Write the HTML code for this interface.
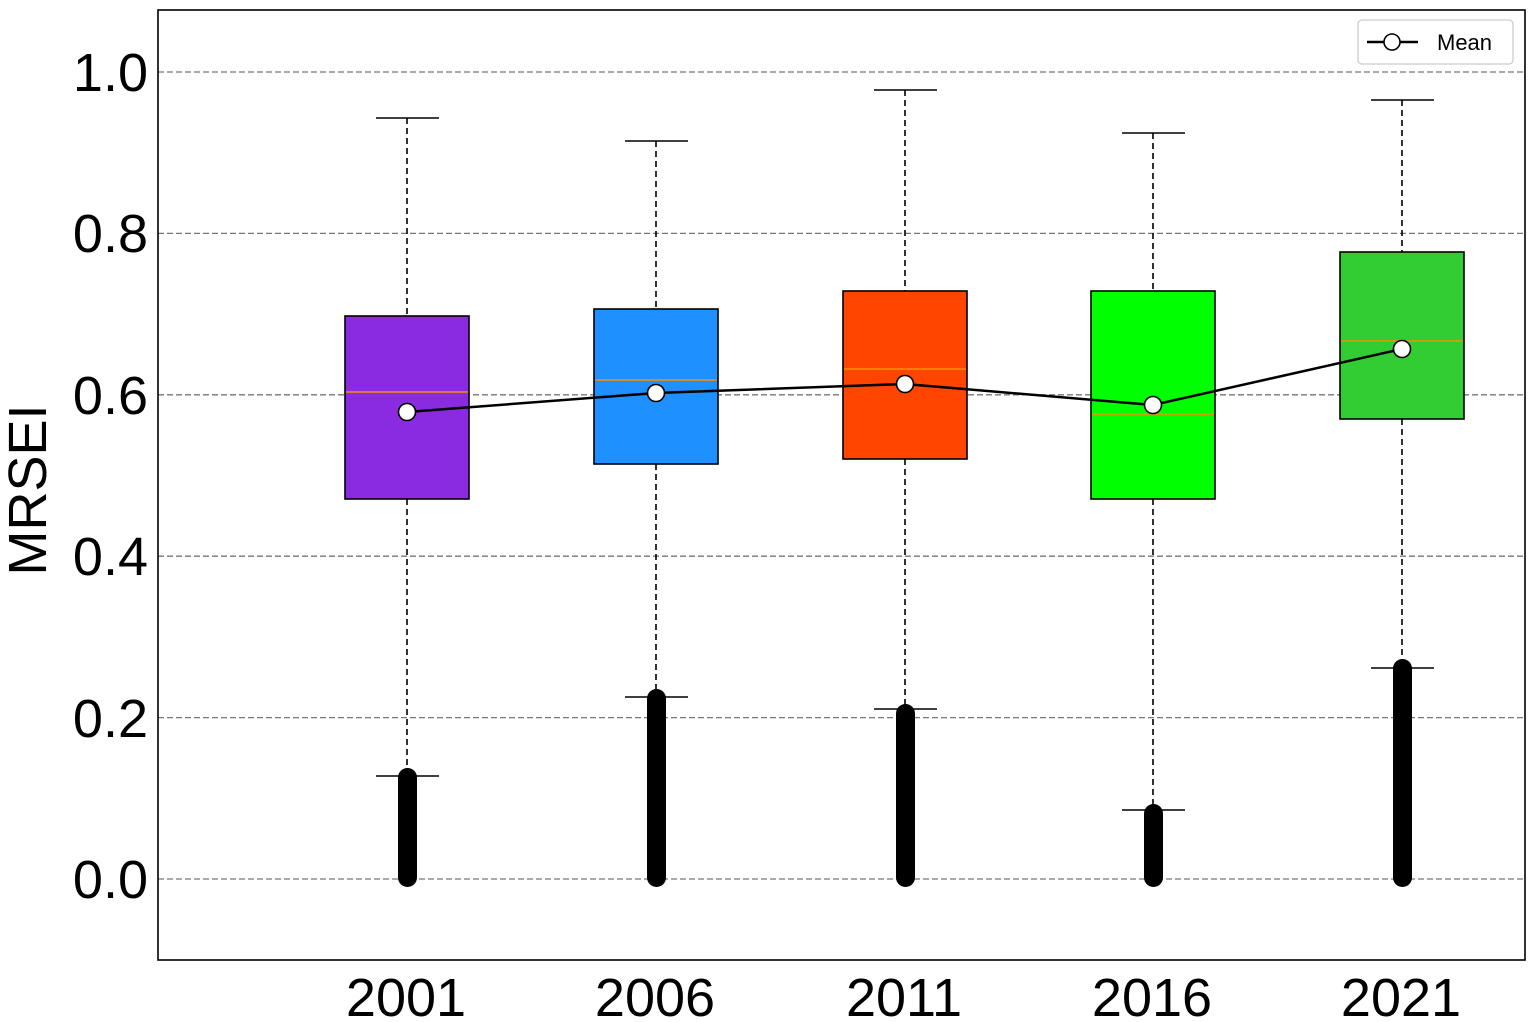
<!DOCTYPE html>
<html><head><meta charset="utf-8"><style>
html,body{margin:0;padding:0;background:#fff;}
svg{display:block;}
text{font-family:"Liberation Sans",Arial,sans-serif;}
</style></head><body>
<svg width="1535" height="1022" viewBox="0 0 1535 1022" xmlns="http://www.w3.org/2000/svg">
<rect width="1535" height="1022" fill="#fff"/>
<g stroke="#777" stroke-width="1.3" stroke-dasharray="6,3">
<line x1="158" x2="1525" y1="72" y2="72"/>
<line x1="158" x2="1525" y1="233.4" y2="233.4"/>
<line x1="158" x2="1525" y1="394.8" y2="394.8"/>
<line x1="158" x2="1525" y1="556.2" y2="556.2"/>
<line x1="158" x2="1525" y1="717.6" y2="717.6"/>
<line x1="158" x2="1525" y1="879" y2="879"/>
</g>
<g font-size="54" fill="#000" text-anchor="end">
<text x="148" y="91">1.0</text>
<text x="148" y="252">0.8</text>
<text x="148" y="414">0.6</text>
<text x="148" y="575">0.4</text>
<text x="148" y="737">0.2</text>
<text x="148" y="898">0.0</text>
</g>
<text transform="translate(46,490) rotate(-90)" font-size="54" text-anchor="middle">MRSEI</text>
<g font-size="54" text-anchor="middle">
<text x="406" y="1016">2001</text>
<text x="655" y="1016">2006</text>
<text x="904" y="1016">2011</text>
<text x="1152" y="1016">2016</text>
<text x="1401" y="1016">2021</text>
</g>
<g id="boxes" stroke="#000" stroke-width="1.6">
<line x1="407" x2="407" y1="118" y2="316" stroke-dasharray="6,4"/>
<line x1="407" x2="407" y1="499" y2="776" stroke-dasharray="6,4"/>
<line x1="376" x2="439" y1="118" y2="118"/><line x1="376" x2="439" y1="776" y2="776"/>
<rect x="345" y="316" width="124" height="183" fill="#8A2BE2"/>
<line x1="346" x2="468" y1="392" y2="392" stroke="#FF8C00"/>
<line x1="656" x2="656" y1="141" y2="309" stroke-dasharray="6,4"/>
<line x1="656" x2="656" y1="464" y2="697" stroke-dasharray="6,4"/>
<line x1="625" x2="688" y1="141" y2="141"/><line x1="625" x2="688" y1="697" y2="697"/>
<rect x="594" y="309" width="124" height="155" fill="#1E90FF"/>
<line x1="595" x2="717" y1="380" y2="380" stroke="#FF8C00"/>
<line x1="905" x2="905" y1="90" y2="291" stroke-dasharray="6,4"/>
<line x1="905" x2="905" y1="459" y2="709" stroke-dasharray="6,4"/>
<line x1="874" x2="937" y1="90" y2="90"/><line x1="874" x2="937" y1="709" y2="709"/>
<rect x="843" y="291" width="124" height="168" fill="#FF4500"/>
<line x1="844" x2="966" y1="369" y2="369" stroke="#FF8C00"/>
<line x1="1153" x2="1153" y1="133" y2="291" stroke-dasharray="6,4"/>
<line x1="1153" x2="1153" y1="499" y2="810" stroke-dasharray="6,4"/>
<line x1="1122" x2="1185" y1="133" y2="133"/><line x1="1122" x2="1185" y1="810" y2="810"/>
<rect x="1091" y="291" width="124" height="208" fill="#00FF00"/>
<line x1="1092" x2="1214" y1="414" y2="414" stroke="#FF8C00"/>
<line x1="1402" x2="1402" y1="100" y2="252" stroke-dasharray="6,4"/>
<line x1="1402" x2="1402" y1="419" y2="668" stroke-dasharray="6,4"/>
<line x1="1371" x2="1434" y1="100" y2="100"/><line x1="1371" x2="1434" y1="668" y2="668"/>
<rect x="1340" y="252" width="124" height="167" fill="#32CD32"/>
<line x1="1341" x2="1463" y1="341" y2="341" stroke="#FF8C00"/>
</g>
<g fill="#000">
<rect x="398" y="768" width="19" height="119" rx="9.5"/>
<rect x="647" y="689" width="19" height="198" rx="9.5"/>
<rect x="896" y="704" width="19" height="183" rx="9.5"/>
<rect x="1144" y="804" width="19" height="83" rx="9.5"/>
<rect x="1393" y="659" width="19" height="228" rx="9.5"/>
</g>
<polyline points="407,412 656,393 905,384 1153,405 1402,349" fill="none" stroke="#000" stroke-width="2.5"/>
<g fill="#fff" stroke="#000" stroke-width="1.6">
<circle cx="407" cy="412" r="8.5"/><circle cx="656" cy="393" r="8.5"/><circle cx="905" cy="384" r="8.5"/>
<circle cx="1153" cy="405" r="8.5"/><circle cx="1402" cy="349" r="8.5"/>
</g>
<rect x="158" y="10" width="1367" height="950" fill="none" stroke="#000" stroke-width="1.6"/>
<rect x="1358" y="20" width="155" height="44" rx="4" fill="#fff" stroke="#ccc" stroke-width="1.3"/>
<line x1="1367" x2="1418" y1="42" y2="42" stroke="#000" stroke-width="2.5"/>
<circle cx="1392" cy="42" r="8" fill="#fff" stroke="#000" stroke-width="1.6"/>
<text x="1437" y="50" font-size="22">Mean</text>
</svg>
</body></html>
